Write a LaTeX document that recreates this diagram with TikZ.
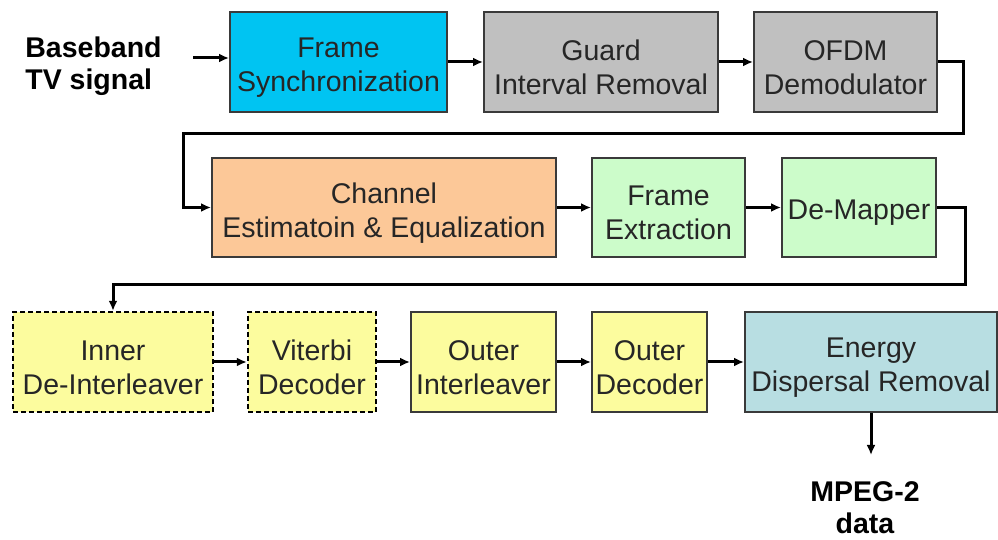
\documentclass[tikz,border=0pt]{standalone}
\usepackage{fontspec}
\setmainfont{Liberation Sans}
\usetikzlibrary{arrows.meta}
\definecolor{txt}{HTML}{262626}
\definecolor{edge}{HTML}{3A3A3A}
\definecolor{cyanfill}{HTML}{00C4F2}
\definecolor{grayfill}{HTML}{C0C0C0}
\definecolor{peach}{HTML}{FCC898}
\definecolor{mint}{HTML}{CCFCCA}
\definecolor{lemon}{HTML}{FCFC9E}
\definecolor{teal}{HTML}{B8DEE2}
\tikzset{
  blk/.style={draw=edge, line width=1pt, inner sep=0pt},
  dblk/.style={blk, draw=black, line width=1.2pt, dash pattern=on 2.5pt off 1.5pt},
  % caption of a block, set slightly below the block centre
  blktext/.style={text=txt, align=center, inner sep=0pt, yshift=-2.8pt,
    font=\fontsize{14.25}{17}\selectfont},
  lbl/.style={font=\bfseries\fontsize{14.25}{16}\selectfont, text=black, inner sep=0pt},
  flow/.style={line width=1.5pt, -{Latex[length=5pt,width=4.5pt]}},
}
\begin{document}
\begin{tikzpicture}[x=0.5pt, y=-0.5pt]
\useasboundingbox (0,0) rectangle (998,540);

% input label
\node[lbl, anchor=west, align=left] (src) at (25,66) {Baseband\\TV signal};
\coordinate (in) at (193,58);

% row 1
\node[blk, fill=cyanfill, minimum width=108.5pt, minimum height=50pt,
  label={[blktext]center:{Frame\\Synchronization}}] (fs) at (338.5,62) {};
\node[blk, fill=grayfill, minimum width=117pt, minimum height=50pt,
  label={[blktext]center:{Guard\\Interval Removal}}] (gir) at (601,62) {};
\node[blk, fill=grayfill, minimum width=91.5pt, minimum height=50pt,
  label={[blktext]center:{OFDM\\Demodulator}}] (ofdm) at (845.5,62) {};

% row 2
\node[blk, fill=peach, minimum width=172pt, minimum height=49.5pt,
  label={[blktext]center:{Channel\\Estimatoin \& Equalization}}] (ch) at (384,207.5) {};
\node[blk, fill=mint, minimum width=76.5pt, minimum height=49.5pt,
  label={[blktext]center:{Frame\\Extraction}}] (fe) at (668.5,207.5) {};
\node[blk, fill=mint, minimum width=77pt, minimum height=49.5pt,
  label={[blktext]center:{De-Mapper}}] (dm) at (859,207.5) {};

% row 3
\node[dblk, fill=lemon, minimum width=100pt, minimum height=50pt,
  label={[blktext]center:{Inner\\De-Interleaver}}] (idi) at (113,362) {};
\node[dblk, fill=lemon, minimum width=64pt, minimum height=50pt,
  label={[blktext]center:{Viterbi\\Decoder}}] (vit) at (312,362) {};
\node[blk, fill=lemon, minimum width=72.5pt, minimum height=50pt,
  label={[blktext]center:{Outer\\Interleaver}}] (oi) at (483.5,362) {};
\node[blk, fill=lemon, minimum width=57.5pt, minimum height=50pt,
  label={[blktext]center:{Outer\\Decoder}}] (od) at (649.5,362) {};
\node[blk, fill=teal, minimum width=126pt, minimum height=50pt,
  label={[blktext]center:{Energy\\Dispersal Removal}}] (edr) at (871,362) {};

% output label
\coordinate (out) at (871,455);
\node[lbl, align=center] (mpeg) at (865,508) {MPEG-2\\data};

% connectors
\draw[flow] (in) -- (in -| fs.west);
\draw[flow] (fs) -- (gir);
\draw[flow] (gir) -- (ofdm);
\draw[flow] (ofdm.east) -- (963,62) -- (963,134) -- (183,134) -- (183,207.5) -- (ch.west);
\draw[flow] (ch) -- (fe);
\draw[flow] (fe) -- (dm);
\draw[flow] (dm.east) -- (965,207.5) -- (965,285) -- (113,285) -- (idi.north);
\draw[flow] (idi) -- (vit);
\draw[flow] (vit) -- (oi);
\draw[flow] (oi) -- (od);
\draw[flow] (od) -- (edr);
\draw[flow] (edr.south) -- (out);
\end{tikzpicture}
\end{document}
